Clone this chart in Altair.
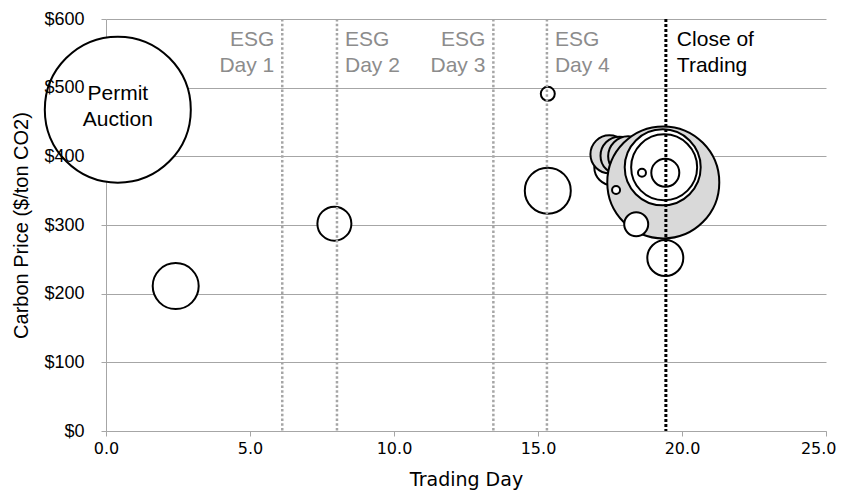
import altair as alt
import pandas as pd

# ---- Bubble data (trading day, carbon price $/ton, traded volume, shading) ----
trade_day = [0.41, 2.42, 7.93, 15.34, 15.34, 17.58, 17.48, 17.83, 18.13,
             19.35, 19.33, 19.38, 19.42, 18.61, 17.71, 18.41, 19.42]
price = [468, 211, 302, 350, 491, 384, 403, 401, 400,
         362, 384, 384, 376, 376, 351, 301, 252]
volume = [5329, 529, 289, 529, 49, 324, 361, 361, 400,
          3136, 1444, 1089, 196, 16, 16, 144, 324]
shade = ["open", "open", "open", "open", "open", "open", "shaded", "shaded", "shaded",
         "shaded", "open", "open", "open", "open", "open", "open", "open"]

# ---- Event markers ----
esg_days = [6.12, 8.02, 13.45, 15.31]
esg_texts = ["ESG\nDay 1", "ESG\nDay 2", "ESG\nDay 3", "ESG\nDay 4"]
esg_side = ["right", "left", "right", "left"]
close_day = [19.44]
close_text = ["Close of\nTrading"]
label_price = 560

auction_day = [0.41]
auction_price = [482]
auction_text = ["Permit\nAuction"]

x_ticks = [0, 5, 10, 15, 20, 25]
y_ticks = [0, 100, 200, 300, 400, 500, 600]

bubbles = pd.DataFrame({"day": trade_day, "price": price, "volume": volume,
                        "shade": shade, "order": list(range(len(trade_day)))})
esg = pd.DataFrame({"day": esg_days, "text": esg_texts, "side": esg_side,
                    "price": [label_price] * len(esg_days)})
close = pd.DataFrame({"day": close_day, "text": close_text,
                      "price": [label_price] * len(close_day)})
auction = pd.DataFrame({"day": auction_day, "price": auction_price, "text": auction_text})

GRAY = "#a6a6a6"
x_scale = alt.Scale(domain=[0, 25], nice=False)
y_scale = alt.Scale(domain=[0, 600], nice=False)

x_axis = alt.Axis(values=x_ticks, format=".1f", title="Trading Day", grid=False,
                  domainColor=GRAY, tickColor=GRAY, tickSize=5, labelPadding=4,
                  labelFont="DejaVu Sans", labelFontSize=16, labelColor="black",
                  labelAlign={"condition": {"test": "datum.value === 25", "value": "right"},
                              "value": "center"},
                  labelOffset={"condition": {"test": "datum.value === 25", "value": 10},
                               "value": 0},
                  titleFont="DejaVu Sans", titleFontSize=19, titleFontWeight="normal",
                  titleColor="black", titlePadding=14, labelFlush=False)


def xenc():
    return alt.X("day:Q", scale=x_scale, axis=x_axis)


grid_axis = alt.Axis(values=y_ticks, orient="left", grid=True, gridColor=GRAY, gridWidth=1,
                     labels=False, title=None, domainColor=GRAY, tickColor=GRAY,
                     tickSize=5, zindex=0)
label_axis = alt.Axis(values=y_ticks, orient="left", grid=False, domain=False, ticks=False,
                      tickSize=0, labels=True, format="$,.0f", labelPadding=22,
                      labelFont="Liberation Sans", labelFontSize=18, labelColor="black",
                      title="Carbon Price ($/ton CO2)", titleFont="Liberation Sans",
                      titleFontSize=20, titleFontWeight="normal", titleColor="black",
                      titlePadding=12, zindex=1)

bubble_layer = alt.Chart(bubbles).mark_circle(stroke="black", strokeWidth=2, opacity=1).encode(
    x=xenc(),
    y=alt.Y("price:Q", scale=y_scale, axis=grid_axis),
    size=alt.Size("volume:Q", scale=alt.Scale(domain=[0, 5329], range=[0, 21316]), legend=None),
    color=alt.Color("shade:N", scale=alt.Scale(domain=["open", "shaded"],
                                               range=["white", "#d9d9d9"]), legend=None),
    order=alt.Order("order:Q"),
)

esg_rules = alt.Chart(esg).mark_rule(color=GRAY, strokeWidth=2.5, strokeDash=[2.5, 2.2]).encode(
    x=xenc()
)
close_rule = alt.Chart(close).mark_rule(color="black", strokeWidth=3, strokeDash=[3, 2]).encode(
    x=xenc()
)

text_style = dict(font="Liberation Sans", fontSize=21, baseline="alphabetic",
                  lineBreak="\n", lineHeight=26)

esg_right = alt.Chart(esg).transform_filter(alt.datum.side == "right").mark_text(
    align="right", dx=-8, color="#8c8c8c", **text_style).encode(
    x=xenc(), y=alt.Y("price:Q", scale=y_scale, axis=None), text="text:N")
esg_left = alt.Chart(esg).transform_filter(alt.datum.side == "left").mark_text(
    align="left", dx=8, color="#8c8c8c", **text_style).encode(
    x=xenc(), y=alt.Y("price:Q", scale=y_scale, axis=None), text="text:N")
close_label = alt.Chart(close).mark_text(align="left", dx=11, color="black", **text_style).encode(
    x=xenc(), y=alt.Y("price:Q", scale=y_scale, axis=None), text="text:N")
auction_label = alt.Chart(auction).mark_text(align="center", color="black", **text_style).encode(
    x=xenc(), y=alt.Y("price:Q", scale=y_scale, axis=label_axis), text="text:N")

chart = alt.layer(
    bubble_layer, esg_rules, close_rule, esg_right, esg_left, close_label, auction_label
).resolve_axis(y="independent").properties(
    width=720, height=412,
    padding={"left": 98, "top": 11, "right": 11, "bottom": 61},
    autosize=alt.AutoSizeParams(type="none"),
).configure_view(stroke=None)

chart.save("out.html", embed_options={"renderer": "svg", "actions": False})
